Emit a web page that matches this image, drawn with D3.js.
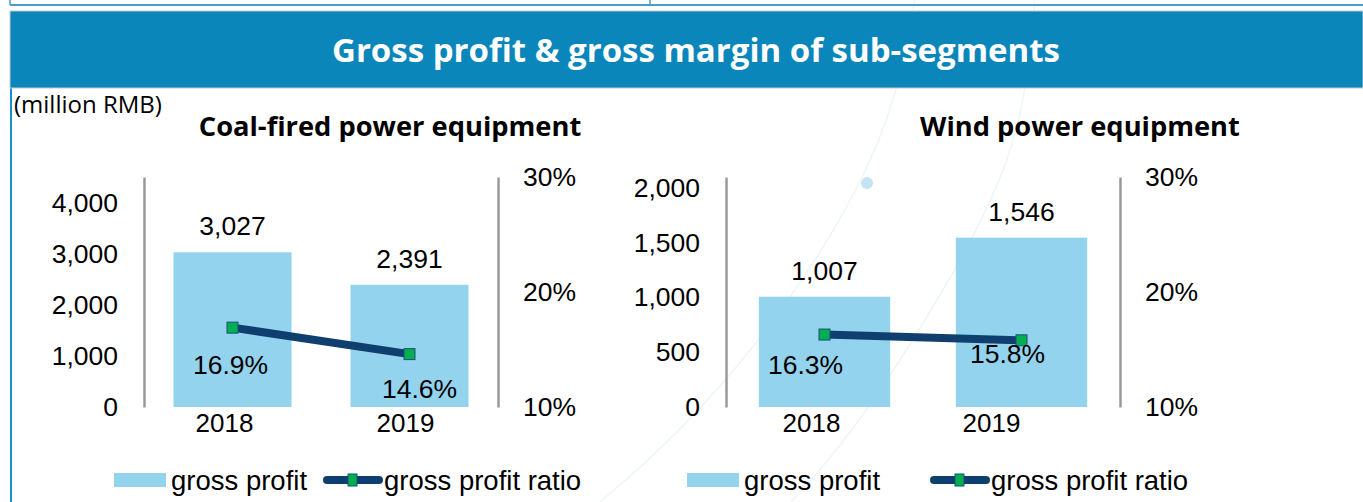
<!DOCTYPE html>
<html>
<head>
<meta charset="utf-8">
<script src="https://cdn.jsdelivr.net/npm/d3@7"></script>
<style>
  body { margin: 0; background: #fff; }
  svg { display: block; }
  .tick text { font-family: "Liberation Sans", Arial, sans-serif; }
</style>
</head>
<body>
<div id="root"></div>
<script>
// data
const years = ['2018', '2019'];
const coalProfit = [3027, 2391];
const coalRatio = [0.169, 0.146];
const windProfit = [1007, 1546];
const windRatio = [0.163, 0.158];
const coalTicks = [0, 1000, 2000, 3000, 4000];
const windTicks = [0, 500, 1000, 1500, 2000];
const ratioTicks = [0.10, 0.20, 0.30];
const legendLabels = ['gross profit', 'gross profit ratio'];

const W = 1363, H = 502;
const BAR = '#93d3ee', LINE = '#0e3f6e', MARK = '#00b050';
const FONT = '"Liberation Sans", Arial, sans-serif';
const HEAD_FONT = '"Open Sans", "Noto Sans", sans-serif';

const svg = d3.select('#root').append('svg')
    .attr('width', W)
    .attr('height', H);

// faint background arcs
const arc = d3.line().curve(d3.curveBasis);
[[[600, 502], [673, 440], [780, 320], [877, 160], [905, 60], [915, 0]],
 [[791, 502], [848, 440], [940, 300], [1014, 160], [1030, 60], [1035, 0]]].forEach(pts => {
    svg.append('path')
        .attr('d', arc(pts))
        .attr('fill', 'none')
        .attr('stroke', '#edf5fa')
        .attr('stroke-width', 1.5);
});
svg.append('circle').attr('cx', 867).attr('cy', 183).attr('r', 6).attr('fill', '#c4e3f3');

// top frame bits
svg.append('line').attr('x1', 10).attr('x2', W).attr('y1', 5).attr('y2', 5)
    .attr('stroke', '#4a9cc9').attr('stroke-width', 2);
[10, 650].forEach(x => {
    svg.append('line').attr('x1', x).attr('x2', x).attr('y1', 0).attr('y2', 5)
        .attr('stroke', '#4a9cc9').attr('stroke-width', 1.5);
});
svg.append('line').attr('x1', 11).attr('x2', 11).attr('y1', 88).attr('y2', H)
    .attr('stroke', '#1a8fd0').attr('stroke-width', 2);

// header band
svg.append('rect')
    .attr('x', 10).attr('y', 11).attr('width', W - 10).attr('height', 77)
    .attr('fill', '#0b86bb')
    .attr('stroke', '#c8c8c8').attr('stroke-width', 1);
svg.append('text')
    .attr('x', 696).attr('y', 62)
    .attr('text-anchor', 'middle')
    .attr('fill', '#fff')
    .style('font-family', HEAD_FONT)
    .style('font-weight', 'bold')
    .style('font-size', '33px')
    .text('Gross profit & gross margin of sub-segments');

svg.append('text')
    .attr('x', 14).attr('y', 113)
    .style('font-family', HEAD_FONT)
    .style('font-size', '24px')
    .text('(million RMB)');

const panels = [
    { title: 'Coal-fired power equipment', titleX: 390, x0: 144, x1: 498, yMax: 4500,
      ticks: coalTicks, profit: coalProfit, ratio: coalRatio,
      ratioDx: [-2, 10], ratioDy: [46, 44], yearDx: [-8, -4],
      legend: [114, 323] },
    { title: 'Wind power equipment', titleX: 1080, x0: 726, x1: 1120, yMax: 2100,
      ticks: windTicks, profit: windProfit, ratio: windRatio,
      ratioDx: [-19, -14], ratioDy: [39, 23], yearDx: [-13, -30],
      legend: [687, 930] }
];

const plotTop = 177, plotBase = 407;

panels.forEach(p => {
    const x = d3.scaleBand()
        .domain(years)
        .range([p.x0, p.x1])
        .paddingInner(1 / 3)
        .paddingOuter(1 / 6);
    const y = d3.scaleLinear().domain([0, p.yMax]).range([plotBase, plotTop]);
    const yr = d3.scaleLinear().domain([0.1, 0.3]).range([plotBase, plotTop]);

    svg.append('text')
        .attr('x', p.titleX).attr('y', 136)
        .attr('text-anchor', 'middle')
        .style('font-family', HEAD_FONT)
        .style('font-weight', 'bold')
        .style('font-size', '27.3px')
        .text(p.title);

    // axes
    const gl = svg.append('g')
        .attr('transform', `translate(${p.x0},0)`)
        .call(d3.axisLeft(y).tickValues(p.ticks).tickFormat(d3.format(',')).tickSize(0).tickPadding(26));
    const gr = svg.append('g')
        .attr('transform', `translate(${p.x1},0)`)
        .call(d3.axisRight(yr).tickValues(ratioTicks).tickFormat(d3.format('.0%')).tickSize(0).tickPadding(25));
    [gl, gr].forEach(g => {
        g.select('.domain').attr('stroke', '#9a9a9a').attr('stroke-width', 2.5);
        g.selectAll('.tick text').style('font-size', '26.5px').attr('fill', '#000');
    });

    // bars
    svg.selectAll(null)
        .data(p.profit)
        .enter()
        .append('rect')
        .attr('x', (d, i) => x(years[i]))
        .attr('y', d => y(d))
        .attr('width', x.bandwidth())
        .attr('height', d => plotBase - y(d))
        .attr('fill', BAR);

    svg.selectAll(null)
        .data(p.profit)
        .enter()
        .append('text')
        .attr('x', (d, i) => x(years[i]) + x.bandwidth() / 2)
        .attr('y', d => y(d) - 17)
        .attr('text-anchor', 'middle')
        .style('font-family', FONT)
        .style('font-size', '26.5px')
        .text(d => d3.format(',')(d));

    // year labels
    svg.selectAll(null)
        .data(years)
        .enter()
        .append('text')
        .attr('x', (d, i) => x(d) + x.bandwidth() / 2 + p.yearDx[i])
        .attr('y', 432)
        .attr('text-anchor', 'middle')
        .style('font-family', FONT)
        .style('font-size', '26px')
        .text(d => d);

    // ratio line
    const pts = p.ratio.map((r, i) => [x(years[i]) + x.bandwidth() / 2, yr(r)]);
    svg.append('path')
        .attr('d', d3.line()(pts))
        .attr('fill', 'none')
        .attr('stroke', LINE)
        .attr('stroke-width', 8);
    svg.selectAll(null)
        .data(pts)
        .enter()
        .append('rect')
        .attr('x', d => d[0] - 5.5)
        .attr('y', d => d[1] - 5.5)
        .attr('width', 11)
        .attr('height', 11)
        .attr('fill', MARK)
        .attr('stroke', '#1f4e79')
        .attr('stroke-width', 1);
    svg.selectAll(null)
        .data(p.ratio)
        .enter()
        .append('text')
        .attr('x', (d, i) => pts[i][0] + p.ratioDx[i])
        .attr('y', (d, i) => pts[i][1] + p.ratioDy[i])
        .attr('text-anchor', 'middle')
        .style('font-family', FONT)
        .style('font-size', '26.5px')
        .text(d => d3.format('.1%')(d));

    // legend
    const [lx, mx] = p.legend;
    svg.append('rect')
        .attr('x', lx).attr('y', 473).attr('width', 52).attr('height', 14)
        .attr('fill', BAR);
    svg.append('text')
        .attr('x', lx + 57).attr('y', 490)
        .style('font-family', FONT)
        .style('font-size', '27.5px')
        .text(legendLabels[0]);
    svg.append('line')
        .attr('x1', mx + 4).attr('x2', mx + 56).attr('y1', 480).attr('y2', 480)
        .attr('stroke', LINE).attr('stroke-width', 8).attr('stroke-linecap', 'round');
    svg.append('rect')
        .attr('x', mx + 25).attr('y', 474).attr('width', 9).attr('height', 12)
        .attr('fill', MARK).attr('stroke', '#1f4e79');
    svg.append('text')
        .attr('x', mx + 61).attr('y', 490)
        .style('font-family', FONT)
        .style('font-size', '27.5px')
        .text(legendLabels[1]);
});
</script>
</body>
</html>
